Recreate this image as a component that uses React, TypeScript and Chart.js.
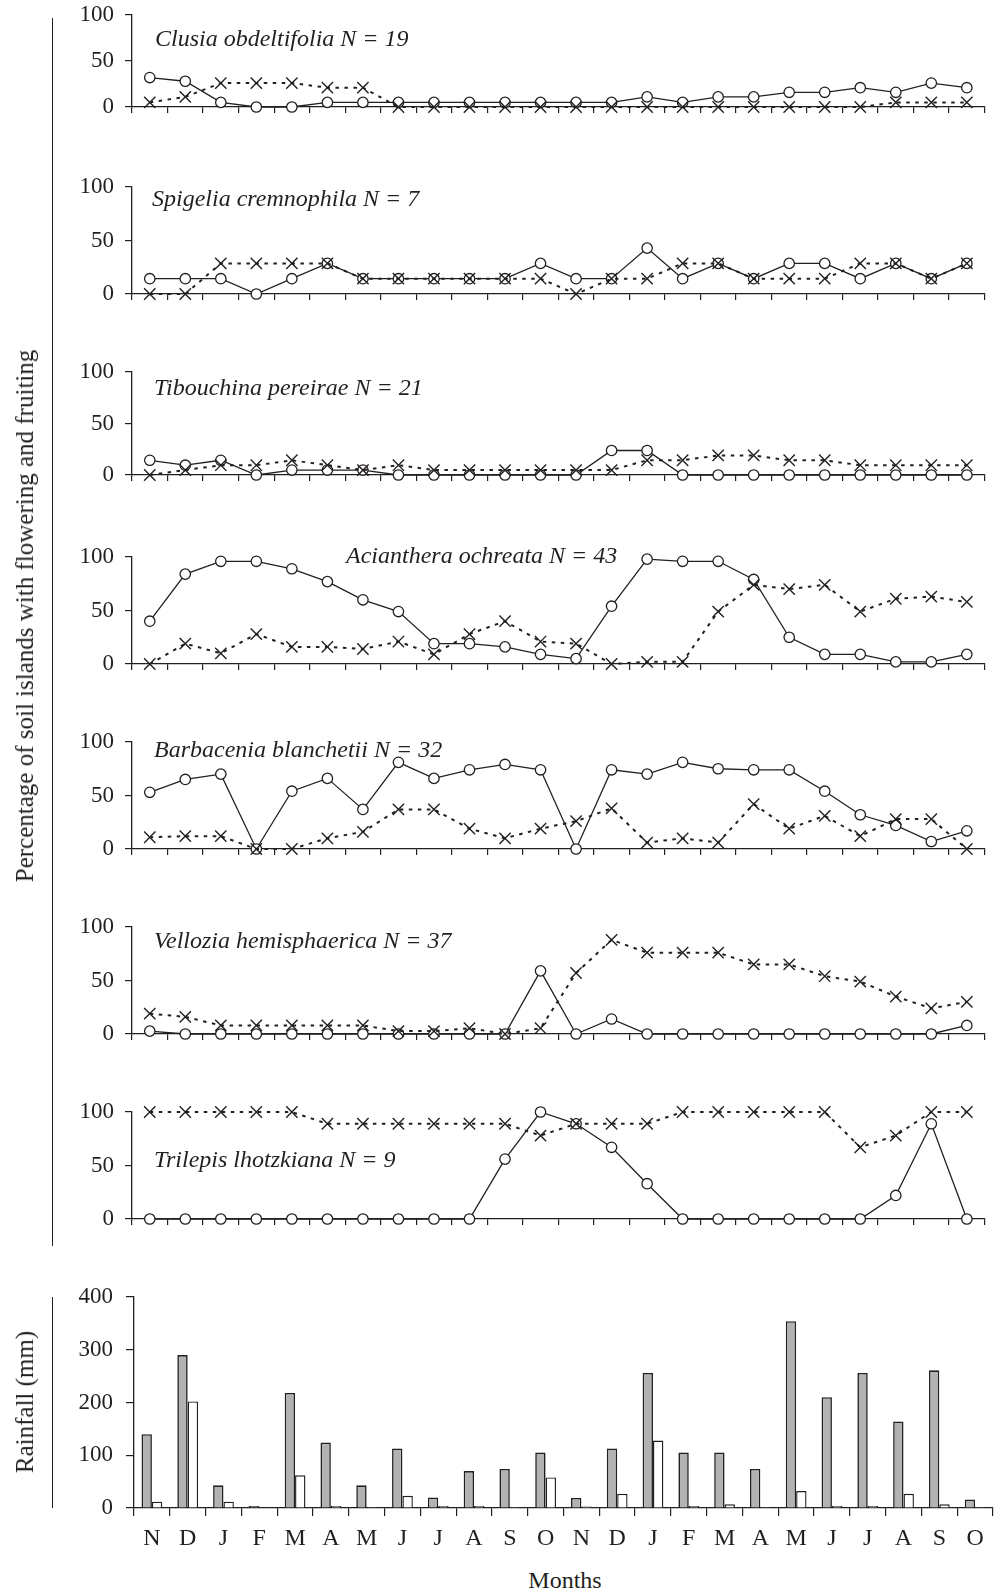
import React, { useEffect, useRef } from "react";
import { Chart, registerables } from "chart.js";
Chart.register(...registerables);

const INK = "#231f20";
const FONT = "'Liberation Serif', 'Times New Roman', serif";

// ---------- data ----------
const months = ["N", "D", "J", "F", "M", "A", "M", "J", "J", "A", "S", "O", "N", "D", "J", "F", "M", "A", "M", "J", "J", "A", "S", "O"];
const pctTicks = [0, 50, 100];
const rainTicks = [0, 100, 200, 300, 400];

const speciesNames = [
  "Clusia obdeltifolia N = 19",
  "Spigelia cremnophila N = 7",
  "Tibouchina pereirae N = 21",
  "Acianthera ochreata N = 43",
  "Barbacenia blanchetii N = 32",
  "Vellozia hemisphaerica N = 37",
  "Trilepis lhotzkiana N = 9",
];

const clusiaCircle = [32, 28, 5, 0, 0, 5, 5, 5, 5, 5, 5, 5, 5, 5, 11, 5, 11, 11, 16, 16, 21, 16, 26, 21];
const clusiaCross = [5, 11, 26, 26, 26, 21, 21, 0, 0, 0, 0, 0, 0, 0, 0, 0, 0, 0, 0, 0, 0, 5, 5, 5];

const spigeliaCircle = [14.3, 14.3, 14.3, 0, 14.3, 28.6, 14.3, 14.3, 14.3, 14.3, 14.3, 28.6, 14.3, 14.3, 42.9, 14.3, 28.6, 14.3, 28.6, 28.6, 14.3, 28.6, 14.3, 28.6];
const spigeliaCross = [0, 0, 28.6, 28.6, 28.6, 28.6, 14.3, 14.3, 14.3, 14.3, 14.3, 14.3, 0, 14.3, 14.3, 28.6, 28.6, 14.3, 14.3, 14.3, 28.6, 28.6, 14.3, 28.6];

const tibouchinaCircle = [14.3, 9.5, 14.3, 0, 4.8, 4.8, 4.8, 0, 0, 0, 0, 0, 0, 23.8, 23.8, 0, 0, 0, 0, 0, 0, 0, 0, 0];
const tibouchinaCross = [0, 4.8, 9.5, 9.5, 14.3, 9.5, 4.8, 9.5, 4.8, 4.8, 4.8, 4.8, 4.8, 4.8, 14.3, 14.3, 19, 19, 14.3, 14.3, 9.5, 9.5, 9.5, 9.5];

const aciantheraCircle = [40, 84, 96, 96, 89, 77, 60, 49, 19, 19, 16, 9, 5, 54, 98, 96, 96, 79, 25, 9, 9, 2, 2, 9];
const aciantheraCross = [0, 19, 10, 28, 16, 16, 14, 21, 9, 28, 40, 21, 19, 0, 2, 2, 49, 74, 70, 74, 49, 61, 63, 58];

const barbaceniaCircle = [53, 65, 70, 0, 54, 66, 37, 81, 66, 74, 79, 74, 0, 74, 70, 81, 75, 74, 74, 54, 32, 22, 7, 17];
const barbaceniaCross = [11, 12, 12, 0, 0, 10, 16, 37, 37, 19, 10, 19, 26, 38, 6, 10, 6, 42, 19, 31, 12, 28, 28, 0];

const velloziaCircle = [2.7, 0, 0, 0, 0, 0, 0, 0, 0, 0, 0, 59, 0, 14, 0, 0, 0, 0, 0, 0, 0, 0, 0, 8];
const velloziaCross = [19, 16, 8, 8, 8, 8, 8, 2.7, 2.7, 5.4, 0, 5.4, 57, 88, 76, 76, 76, 65, 65, 54, 49, 35, 24, 30];

const trilepisCircle = [0, 0, 0, 0, 0, 0, 0, 0, 0, 0, 56, 100, 89, 67, 33, 0, 0, 0, 0, 0, 0, 22, 89, 0];
const trilepisCross = [100, 100, 100, 100, 100, 89, 89, 89, 89, 89, 89, 78, 89, 89, 89, 100, 100, 100, 100, 100, 67, 78, 100, 100];

const rainfallGray = [140, 290, 43, 4, 218, 124, 43, 113, 20, 70, 74, 105, 19, 113, 256, 105, 105, 74, 354, 210, 256, 164, 261, 16];
const rainfallWhite = [12, 202, 12, 0, 62, 4, 2, 23, 4, 4, 2, 58, 3, 27, 128, 4, 7, 2, 32, 4, 4, 27, 7, 2];

const circleSeries = [clusiaCircle, spigeliaCircle, tibouchinaCircle, aciantheraCircle, barbaceniaCircle, velloziaCircle, trilepisCircle];
const crossSeries = [clusiaCross, spigeliaCross, tibouchinaCross, aciantheraCross, barbaceniaCross, velloziaCross, trilepisCross];

// ---------- layout (page pixels) ----------
const PAGE_W = 994;
const PAD_T = 16;
const LINE_XAXIS_H = 14;
const panelLayout = [
  { top: 15, bottom: 107, tx: 155, ty: 40 },
  { top: 187, bottom: 294, tx: 152, ty: 200 },
  { top: 372, bottom: 475, tx: 154, ty: 389 },
  { top: 557, bottom: 664, tx: 346, ty: 557 },
  { top: 742, bottom: 849, tx: 154, ty: 751 },
  { top: 927, bottom: 1034, tx: 154, ty: 942 },
  { top: 1112, bottom: 1219, tx: 154, ty: 1161 },
];
const barLayout = { top: 1297, bottom: 1508, xaxisH: 52 };

const titlePlugin = {
  id: "panelTitle",
  beforeDatasetsDraw(chart: any, _args: any, opts: any) {
    if (!opts || !opts.text) return;
    const ctx = chart.ctx;
    ctx.save();
    ctx.font = `italic 24px ${FONT}`;
    ctx.fillStyle = INK;
    ctx.textAlign = "left";
    ctx.textBaseline = "middle";
    ctx.fillText(opts.text, opts.x, opts.y);
    ctx.restore();
  },
};

function lineConfig(i: number, canvasTop: number) {
  const L = panelLayout[i];
  return {
    type: "line",
    data: {
      labels: months,
      datasets: [
        {
          data: circleSeries[i],
          order: 1,
          borderColor: INK,
          borderWidth: 1.3,
          pointStyle: "circle",
          pointRadius: 5.2,
          pointBackgroundColor: "#ffffff",
          pointBorderColor: INK,
          pointBorderWidth: 1.3,
          tension: 0,
          clip: false,
        },
        {
          data: crossSeries[i],
          order: 0,
          borderColor: INK,
          borderWidth: 2,
          borderDash: [3.5, 5.5],
          pointStyle: "crossRot",
          pointRadius: 8,
          pointBorderColor: INK,
          pointBorderWidth: 1.4,
          tension: 0,
          clip: false,
        },
      ],
    },
    options: {
      responsive: false,
      animation: false,
      events: [],
      layout: { padding: { top: PAD_T, right: 1, left: 0, bottom: 0 } },
      plugins: {
        legend: { display: false },
        tooltip: { enabled: false },
        panelTitle: { text: speciesNames[i], x: L.tx, y: L.ty - canvasTop },
      },
      scales: {
        x: {
          type: "category",
          offset: true,
          grid: { offset: true, drawOnChartArea: false, drawTicks: true, tickLength: 6, color: INK, lineWidth: 1.2 },
          border: { display: true, color: INK, width: 1.3 },
          ticks: { display: false },
          afterFit: (s: any) => {
            s.height = LINE_XAXIS_H;
            s.paddingLeft = 0;
            s.paddingRight = 0;
          },
        },
        y: {
          min: pctTicks[0],
          max: pctTicks[pctTicks.length - 1],
          afterBuildTicks: (s: any) => {
            s.ticks = pctTicks.map((v) => ({ value: v }));
          },
          ticks: { font: { family: FONT, size: 23 }, color: INK, padding: 11 },
          grid: { drawOnChartArea: false, drawTicks: true, tickLength: 7, color: INK, lineWidth: 1.2 },
          border: { display: true, color: INK, width: 1.3 },
          afterFit: (s: any) => {
            s.width = 132;
            s.paddingTop = 0;
            s.paddingBottom = 0;
          },
        },
      },
    },
    plugins: [titlePlugin],
  };
}

function barConfig() {
  return {
    type: "bar",
    data: {
      labels: months,
      datasets: [
        {
          data: rainfallGray,
          backgroundColor: "#b2b2b2",
          borderColor: INK,
          borderWidth: 1.6,
          borderSkipped: "start",
          barPercentage: 1,
          categoryPercentage: 0.58,
        },
        {
          data: rainfallWhite,
          backgroundColor: "#ffffff",
          borderColor: INK,
          borderWidth: 1.4,
          borderSkipped: "start",
          barPercentage: 1,
          categoryPercentage: 0.58,
        },
      ],
    },
    options: {
      responsive: false,
      animation: false,
      events: [],
      layout: { padding: { top: PAD_T, right: 1, left: 0, bottom: 0 } },
      plugins: { legend: { display: false }, tooltip: { enabled: false } },
      scales: {
        x: {
          type: "category",
          offset: true,
          grid: { offset: true, drawOnChartArea: false, drawTicks: true, tickLength: 8, color: INK, lineWidth: 1.2 },
          border: { display: true, color: INK, width: 1.3 },
          ticks: { font: { family: FONT, size: 24 }, color: INK, padding: 8, maxRotation: 0, autoSkip: false },
          afterFit: (s: any) => {
            s.height = barLayout.xaxisH;
            s.paddingLeft = 0;
            s.paddingRight = 0;
          },
        },
        y: {
          min: rainTicks[0],
          max: rainTicks[rainTicks.length - 1],
          afterBuildTicks: (s: any) => {
            s.ticks = rainTicks.map((v) => ({ value: v }));
          },
          ticks: { font: { family: FONT, size: 23 }, color: INK, padding: 13 },
          grid: { drawOnChartArea: false, drawTicks: true, tickLength: 8, color: INK, lineWidth: 1.2 },
          border: { display: true, color: INK, width: 1.3 },
          afterFit: (s: any) => {
            s.width = 134;
            s.paddingTop = 0;
            s.paddingBottom = 0;
          },
        },
      },
    },
  };
}

export default function App() {
  const lineRefs = useRef<(HTMLCanvasElement | null)[]>([]);
  const barRef = useRef<HTMLCanvasElement | null>(null);

  useEffect(() => {
    const charts: Chart[] = [];
    panelLayout.forEach((L, i) => {
      const c = lineRefs.current[i];
      if (c) charts.push(new Chart(c, lineConfig(i, L.top - PAD_T) as any));
    });
    if (barRef.current) charts.push(new Chart(barRef.current, barConfig() as any));
    return () => charts.forEach((ch) => ch.destroy());
  }, []);

  const rotated = (text: string, cx: number, cy: number) => (
    <div
      style={{
        position: "absolute",
        left: cx,
        top: cy,
        transform: "translate(-50%, -50%) rotate(-90deg)",
        whiteSpace: "nowrap",
        fontFamily: FONT,
        fontSize: 25,
        color: INK,
        lineHeight: "30px",
      }}
    >
      {text}
    </div>
  );

  return (
    <div
      style={{
        position: "absolute",
        left: 0,
        top: 0,
        width: PAGE_W,
        height: 1592,
        background: "#ffffff",
        overflow: "hidden",
      }}
    >
      {panelLayout.map((L, i) => {
        const top = L.top - PAD_T;
        const h = PAD_T + (L.bottom - L.top) + LINE_XAXIS_H;
        return (
          <canvas
            key={i}
            ref={(el) => {
              lineRefs.current[i] = el;
            }}
            width={PAGE_W}
            height={h}
            style={{ position: "absolute", left: 0, top, width: PAGE_W, height: h }}
          />
        );
      })}
      <canvas
        ref={barRef}
        width={PAGE_W}
        height={PAD_T + (barLayout.bottom - barLayout.top) + barLayout.xaxisH}
        style={{
          position: "absolute",
          left: 0,
          top: barLayout.top - PAD_T,
          width: PAGE_W,
          height: PAD_T + (barLayout.bottom - barLayout.top) + barLayout.xaxisH,
        }}
      />
      <div style={{ position: "absolute", left: 52, top: 18, width: 0, height: 1228, borderLeft: `1.5px solid ${INK}` }} />
      <div style={{ position: "absolute", left: 52, top: 1297, width: 0, height: 211, borderLeft: `1.5px solid ${INK}` }} />
      {rotated("Percentage of soil islands with flowering and fruiting", 25, 616)}
      {rotated("Rainfall (mm)", 25, 1402)}
      <div
        style={{
          position: "absolute",
          left: 565,
          top: 1580,
          transform: "translate(-50%, -50%)",
          whiteSpace: "nowrap",
          fontFamily: FONT,
          fontSize: 24,
          color: INK,
          lineHeight: "28px",
        }}
      >
        Months
      </div>
    </div>
  );
}
